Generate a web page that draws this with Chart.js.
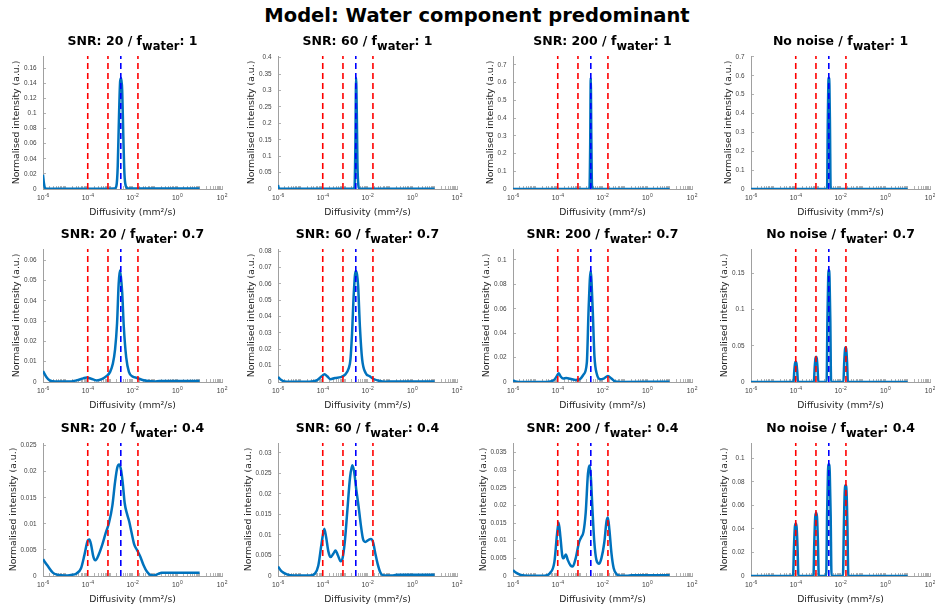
<!DOCTYPE html>
<html>
<head>
<meta charset="utf-8">
<script src="https://cdn.jsdelivr.net/npm/chart.js@4.4.0/dist/chart.umd.min.js"></script>
<style>
html, body { margin: 0; padding: 0; background: #fff; width: 935px; height: 609px; overflow: hidden; position: relative; font-family: 'DejaVu Sans', sans-serif; }
canvas { position: absolute; }
.title { position: absolute; font-weight: bold; color: #000; white-space: nowrap; line-height: 1; transform: translateX(-50%); }
.title sub { font-size: 0.92em; vertical-align: -0.42em; line-height: 0; }
.sub-title { font-size: 12.5px; }
#main { font-size: 19.5px; left: 477px; top: 5.5px; }
</style>
</head>
<body>
<div id="main" class="title">Model: Water component predominant</div>
<script>
// reference diffusivities (mm^2/s)
const redLines = [1e-4, 8e-4, 1.75e-2];
const blueLine = 3e-3;

// labelled decades on the diffusivity axis
const xLabelExps = [-6, -4, -2, 0, 2];

// spectra: [log10(diffusivity), normalised intensity]
const snr20_f1 = [[-6,0.019],[-5.96,0.008],[-5.92,0.002],[-5.85,0.0004],[-3.3,0.0004],[-2.8,0.0008],[-2.72,0.004],[-2.66,0.03],[-2.6,0.1],[-2.55,0.143],[-2.5,0.147],[-2.46,0.13],[-2.41,0.07],[-2.36,0.02],[-2.3,0.004],[-2.2,0.0005],[1,0.0005]];
const snr60_f1 = [[-6,0.012],[-5.97,0.004],[-5.93,0.0005],[-2.64,0.0005],[-2.58,0.006],[-2.54,0.14],[-2.51,0.338],[-2.48,0.24],[-2.45,0.08],[-2.41,0.012],[-2.36,0.0005],[1,0.0005]];
const snr200_f1 = [[-6,0.0005],[-2.63,0.0005],[-2.58,0.01],[-2.55,0.25],[-2.525,0.625],[-2.5,0.3],[-2.47,0.02],[-2.42,0.0005],[1,0.0005]];
const noNoise_f1 = [[-6,0],[-2.6,0],[-2.57,0.33],[-2.545,0.55],[-2.52,0.59],[-2.495,0.55],[-2.47,0.33],[-2.44,0],[1,0]];

const snr20_f07 = [[-6,0.0054],[-5.85,0.0025],[-5.7,0.0008],[-5.45,0.0002],[-4.9,0.0002],[-4.5,0.0008],[-4.2,0.0018],[-4.05,0.0022],[-3.85,0.0016],[-3.6,0.0008],[-3.35,0.0015],[-3.15,0.003],[-3.0,0.005],[-2.88,0.009],[-2.78,0.016],[-2.69,0.029],[-2.62,0.048],[-2.57,0.055],[-2.52,0.052],[-2.46,0.044],[-2.39,0.0275],[-2.28,0.012],[-2.16,0.005],[-2.0,0.0027],[-1.8,0.002],[-1.55,0.001],[-1.3,0.0005],[-1.0,0.0003],[-0.8,0.0005],[1,0.0005]];
const snr60_f07 = [[-6,0.0031],[-5.85,0.0012],[-5.7,0.0003],[-5.2,0.0001],[-4.6,0.0002],[-4.25,0.0012],[-4.05,0.0035],[-3.92,0.0047],[-3.8,0.0035],[-3.66,0.0017],[-3.45,0.0025],[-3.2,0.003],[-3.0,0.0045],[-2.85,0.008],[-2.76,0.014],[-2.69,0.03],[-2.61,0.055],[-2.53,0.068],[-2.47,0.066],[-2.42,0.059],[-2.34,0.034],[-2.24,0.014],[-2.09,0.0057],[-1.9,0.0035],[-1.75,0.002],[-1.5,0.0008],[-1.2,0.0002],[-0.9,0.0003],[1,0.0003]];
const snr200_f07 = [[-6,0.0014],[-5.9,0.0005],[-5.75,0.0001],[-4.5,0.0001],[-4.2,0.0012],[-4.05,0.0045],[-3.96,0.0071],[-3.87,0.0045],[-3.76,0.0028],[-3.62,0.0033],[-3.45,0.0027],[-3.2,0.0017],[-3.0,0.0025],[-2.85,0.006],[-2.7,0.0158],[-2.62,0.06],[-2.53,0.091],[-2.44,0.06],[-2.36,0.021],[-2.25,0.0063],[-2.1,0.0022],[-1.95,0.0028],[-1.76,0.0049],[-1.6,0.0028],[-1.44,0.0005],[-1.2,0.0001],[1,0.0003]];
const noNoise_f07 = [[-6,0],[-4.1,0],[-4.065,0.0154],[-4.03,0.026],[-4.0,0.028],[-3.97,0.026],[-3.935,0.0154],[-3.9,0],[-3.19,0],[-3.155,0.0193],[-3.12,0.0326],[-3.09,0.035],[-3.06,0.0326],[-3.025,0.0193],[-2.99,0],[-2.62,0],[-2.585,0.085],[-2.55,0.144],[-2.52,0.155],[-2.49,0.144],[-2.455,0.085],[-2.42,0],[-1.87,0],[-1.835,0.0264],[-1.8,0.0446],[-1.77,0.048],[-1.74,0.0446],[-1.705,0.0264],[-1.67,0],[1,0]];

const snr20_f04 = [[-6,0.0032],[-5.8,0.002],[-5.55,0.0006],[-5.3,0.0002],[-5.05,0.0001],[-4.75,0.0002],[-4.5,0.0005],[-4.3,0.0015],[-4.15,0.004],[-4.0,0.0068],[-3.93,0.007],[-3.85,0.006],[-3.75,0.0037],[-3.66,0.003],[-3.5,0.0042],[-3.35,0.006],[-3.2,0.0082],[-3.05,0.0102],[-2.9,0.0135],[-2.78,0.018],[-2.68,0.0208],[-2.6,0.0214],[-2.52,0.0205],[-2.44,0.018],[-2.35,0.014],[-2.25,0.012],[-2.15,0.0105],[-2.05,0.0085],[-1.92,0.006],[-1.8,0.005],[-1.65,0.0037],[-1.5,0.002],[-1.35,0.0008],[-1.2,0.0002],[-1.05,0.0001],[-0.85,0.0004],[-0.7,0.0006],[1,0.0006]];
const snr60_f04 = [[-6,0.0023],[-5.85,0.0012],[-5.6,0.0004],[-5.3,0.0001],[-4.6,0.0001],[-4.35,0.0006],[-4.2,0.0025],[-4.05,0.008],[-3.93,0.0115],[-3.85,0.0095],[-3.75,0.006],[-3.65,0.0046],[-3.52,0.0055],[-3.43,0.0062],[-3.32,0.005],[-3.2,0.0036],[-3.12,0.0042],[-3.02,0.008],[-2.9,0.016],[-2.78,0.024],[-2.68,0.027],[-2.6,0.0255],[-2.5,0.021],[-2.4,0.017],[-2.3,0.0125],[-2.2,0.009],[-2.1,0.0083],[-1.95,0.0088],[-1.85,0.009],[-1.75,0.0082],[-1.65,0.0055],[-1.55,0.003],[-1.42,0.0008],[-1.25,0.0001],[-0.9,0.0001],[-0.7,0.0003],[1,0.0003]];
const snr200_f04 = [[-6,0.0016],[-5.85,0.0009],[-5.65,0.0003],[-5.3,0.0001],[-4.6,0.0001],[-4.35,0.0008],[-4.15,0.004],[-4.03,0.012],[-3.96,0.0152],[-3.88,0.011],[-3.8,0.0058],[-3.74,0.005],[-3.64,0.0061],[-3.55,0.0045],[-3.43,0.003],[-3.33,0.0027],[-3.2,0.005],[-3.05,0.0095],[-2.95,0.011],[-2.85,0.0125],[-2.75,0.018],[-2.65,0.029],[-2.58,0.0313],[-2.52,0.028],[-2.45,0.019],[-2.37,0.01],[-2.27,0.0045],[-2.15,0.0035],[-2.05,0.005],[-1.92,0.0095],[-1.82,0.0155],[-1.76,0.0166],[-1.69,0.013],[-1.6,0.0065],[-1.5,0.0022],[-1.35,0.0004],[-1.2,0.0001],[-0.9,0.0001],[-0.7,0.0002],[1,0.0002]];
const noNoise_f04 = [[-6,0],[-4.12,0],[-4.08,0.0245],[-4.04,0.0414],[-4.0,0.0445],[-3.96,0.0414],[-3.92,0.0245],[-3.88,0],[-3.21,0],[-3.17,0.0295],[-3.13,0.05],[-3.09,0.0537],[-3.05,0.05],[-3.01,0.0295],[-2.97,0],[-2.64,0],[-2.6,0.052],[-2.56,0.088],[-2.52,0.095],[-2.48,0.088],[-2.44,0.052],[-2.4,0],[-1.89,0],[-1.85,0.042],[-1.81,0.072],[-1.77,0.0772],[-1.73,0.072],[-1.69,0.042],[-1.65,0],[1,0]];

const panels = [
  {label: 'SNR: 20', fw: '1', data: snr20_f1, ymax: 0.176, step: 0.02},
  {label: 'SNR: 60', fw: '1', data: snr60_f1, ymax: 0.405, step: 0.05},
  {label: 'SNR: 200', fw: '1', data: snr200_f1, ymax: 0.75, step: 0.1},
  {label: 'No noise', fw: '1', data: noNoise_f1, ymax: 0.705, step: 0.1},
  {label: 'SNR: 20', fw: '0.7', data: snr20_f07, ymax: 0.0656, step: 0.01},
  {label: 'SNR: 60', fw: '0.7', data: snr60_f07, ymax: 0.0814, step: 0.01},
  {label: 'SNR: 200', fw: '0.7', data: snr200_f07, ymax: 0.109, step: 0.02},
  {label: 'No noise', fw: '0.7', data: noNoise_f07, ymax: 0.184, step: 0.05},
  {label: 'SNR: 20', fw: '0.4', data: snr20_f04, ymax: 0.0255, step: 0.005},
  {label: 'SNR: 60', fw: '0.4', data: snr60_f04, ymax: 0.0324, step: 0.005},
  {label: 'SNR: 200', fw: '0.4', data: snr200_f04, ymax: 0.0377, step: 0.005},
  {label: 'No noise', fw: '0.4', data: noNoise_f04, ymax: 0.113, step: 0.02}
];

const plotLefts = [43, 278, 513, 751];
const plotTops = [56, 249, 443];
const plotW = 179, plotH = 133;
const padL = 42, padT = 6, padR = 10, padB = 32;

Chart.defaults.font.family = "'DejaVu Sans', sans-serif";
const tickFont = "'Liberation Sans', Arial, sans-serif";
const yTickSize = 6.4;
const axisGrey = '#a0a0a0';
const tickGrey = '#404040';

// minor + major tick marks on the log axis
const xTicks = [];
for (let k = -6; k <= 1; k++) {
    for (let m = 1; m <= 9; m++) xTicks.push(m * Math.pow(10, k));
}
xTicks.push(100);

function yLabel(v) {
    return String(parseFloat(Number(v).toFixed(4)));
}

// y title sits just left of the widest tick label, like the original
const measure = document.createElement('canvas').getContext('2d');
measure.font = yTickSize + 'px ' + tickFont;
function yTitlePad(p) {
    let w = 0;
    for (let v = 0; v <= p.ymax + 1e-9; v += p.step) w = Math.max(w, measure.measureText(yLabel(v)).width);
    return Math.max(1, padL - w - 13.5 - 5.6);
}

// "10" with a raised exponent under each labelled decade
const powerLabels = {
    id: 'powerLabels',
    afterDraw(chart) {
        const s = chart.scales.x, ctx = chart.ctx;
        const y = s.top + 11;
        ctx.save();
        ctx.fillStyle = tickGrey;
        ctx.textBaseline = 'alphabetic';
        ctx.textAlign = 'left';
        xLabelExps.forEach(e => {
            const x = s.getPixelForValue(Math.pow(10, e));
            ctx.font = '6.8px ' + tickFont;
            const w1 = ctx.measureText('10').width;
            ctx.font = '5px ' + tickFont;
            const w2 = ctx.measureText(String(e)).width;
            const x0 = x - (w1 + w2) / 2;
            ctx.font = '6.8px ' + tickFont;
            ctx.fillText('10', x0, y);
            ctx.font = '5px ' + tickFont;
            ctx.fillText(String(e), x0 + w1 + 0.3, y - 3.2);
        });
        ctx.restore();
    }
};

function vline(d, ymax, color) {
    return {
        data: [{x: d, y: 0}, {x: d, y: ymax}],
        borderColor: color,
        borderWidth: 1.6,
        borderDash: [6, 4],
        pointRadius: 0,
        fill: false
    };
}

panels.forEach((p, i) => {
    const r = Math.floor(i / 4), c = i % 4;
    const cv = document.createElement('canvas');
    cv.width = padL + plotW + padR;
    cv.height = padT + plotH + padB;
    cv.style.left = (plotLefts[c] - padL) + 'px';
    cv.style.top = (plotTops[r] - padT) + 'px';
    document.body.appendChild(cv);

    const t = document.createElement('div');
    t.className = 'title sub-title';
    t.innerHTML = p.label + ' / f<sub>water</sub>: ' + p.fw;
    t.style.left = (plotLefts[c] + plotW / 2) + 'px';
    t.style.top = (plotTops[r] - 21) + 'px';
    document.body.appendChild(t);

    const datasets = [];
    redLines.forEach(d => datasets.push(vline(d, p.ymax, '#ff0000')));
    datasets.push(vline(blueLine, p.ymax, '#0000ff'));
    datasets.push({
        data: p.data.map(pt => ({x: Math.pow(10, pt[0]), y: pt[1]})),
        borderColor: '#0072bd',
        borderWidth: 2.5,
        pointRadius: 0,
        cubicInterpolationMode: 'monotone',
        fill: false
    });

    new Chart(cv.getContext('2d'), {
        type: 'line',
        data: {datasets: datasets},
        plugins: [powerLabels],
        options: {
            responsive: false,
            animation: false,
            events: [],
            layout: {padding: {left: 0, top: padT, right: padR, bottom: 0}},
            plugins: {legend: {display: false}, tooltip: {enabled: false}},
            scales: {
                x: {
                    type: 'logarithmic',
                    min: 1e-6,
                    max: 1e2,
                    afterBuildTicks: s => { s.ticks = xTicks.map(v => ({value: v})); },
                    afterFit: s => { s.height = padB; s.paddingLeft = 0; s.paddingRight = 0; },
                    ticks: {autoSkip: false, maxRotation: 0, minRotation: 0, callback: () => ''},
                    grid: {drawOnChartArea: false, drawTicks: true, tickLength: -3, color: axisGrey, lineWidth: 0.8},
                    border: {display: true, color: axisGrey, width: 1},
                    title: {display: true, text: 'Diffusivity (mm\u00b2/s)', color: '#262626', font: {size: 9.3}, padding: {top: 0, bottom: 3}}
                },
                y: {
                    min: 0,
                    max: p.ymax,
                    afterFit: s => { s.width = padL; s.paddingTop = 0; s.paddingBottom = 0; },
                    ticks: {
                        stepSize: p.step, includeBounds: false, padding: 9.5,
                        color: tickGrey, font: {family: tickFont, size: yTickSize},
                        callback: v => yLabel(v)
                    },
                    grid: {drawOnChartArea: false, drawTicks: true, tickLength: -3, color: axisGrey, lineWidth: 0.8},
                    border: {display: true, color: axisGrey, width: 1},
                    title: {display: true, text: 'Normalised intensity (a.u.)', color: '#262626', font: {size: 9.3}, padding: {top: yTitlePad(p), bottom: 0}}
                }
            }
        }
    });
});
</script>
</body>
</html>
